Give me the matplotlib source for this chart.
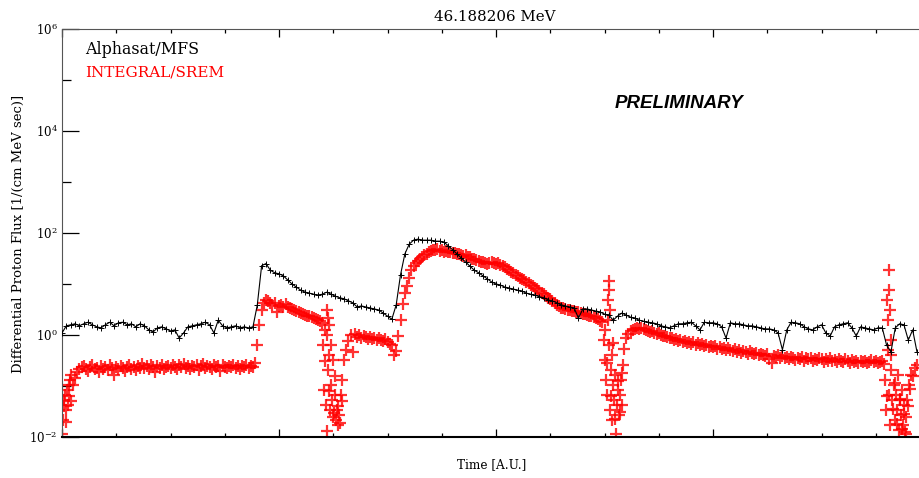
import numpy as np
import matplotlib
matplotlib.use("Agg")
import matplotlib.pyplot as plt
from matplotlib.ticker import FixedLocator, NullFormatter, FixedFormatter

# ---------------- data (log10 of differential proton flux) ----------------
title_text = "46.188206 MeV"
series_names = ["Alphasat/MFS", "INTEGRAL/SREM"]
ytick_values = [1e-2, 1e0, 1e2, 1e4, 1e6]
ytick_labels = [r"$10^{-2}$", r"$10^{0}$", r"$10^{2}$", r"$10^{4}$", r"$10^{6}$"]
yminor_values = [1e-1, 1e1, 1e3, 1e5]

mfs_dt = 0.02      # sample spacing, A.U.
srem_dt = 0.01

mfs_log10_flux = [
    0.04, 0.18, 0.20, 0.22, 0.18, 0.22, 0.25, 0.20, 0.16, 0.14,
    0.20, 0.25, 0.18, 0.24, 0.25, 0.20, 0.22, 0.16, 0.22, 0.18,
    0.10, 0.06, 0.14, 0.16, 0.12, 0.08, 0.10, -0.06, 0.04, 0.16,
    0.18, 0.20, 0.22, 0.25, 0.20, 0.04, 0.29, 0.18, 0.14, 0.16,
    0.18, 0.14, 0.16, 0.14, 0.16, 0.59, 1.36, 1.40, 1.27, 1.22,
    1.20, 1.16, 1.08, 1.00, 0.94, 0.88, 0.84, 0.82, 0.80, 0.78,
    0.80, 0.84, 0.80, 0.76, 0.73, 0.71, 0.67, 0.63, 0.55, 0.57,
    0.55, 0.53, 0.51, 0.49, 0.43, 0.37, 0.31, 0.59, 1.18, 1.59,
    1.78, 1.86, 1.88, 1.86, 1.86, 1.86, 1.84, 1.84, 1.82, 1.75,
    1.67, 1.59, 1.51, 1.43, 1.35, 1.27, 1.22, 1.16, 1.10, 1.04,
    1.00, 0.98, 0.94, 0.92, 0.90, 0.88, 0.86, 0.82, 0.80, 0.78,
    0.75, 0.73, 0.69, 0.67, 0.63, 0.59, 0.57, 0.55, 0.53, 0.33,
    0.51, 0.51, 0.49, 0.47, 0.45, 0.41, 0.39, 0.29, 0.37, 0.43,
    0.39, 0.35, 0.33, 0.29, 0.27, 0.25, 0.24, 0.22, 0.18, 0.16,
    0.14, 0.18, 0.22, 0.22, 0.24, 0.25, 0.18, 0.10, 0.25, 0.24,
    0.24, 0.22, 0.16, -0.06, 0.24, 0.22, 0.22, 0.20, 0.18, 0.18,
    0.16, 0.14, 0.12, 0.12, 0.10, 0.04, -0.29, 0.10, 0.25, 0.24,
    0.22, 0.16, 0.12, 0.10, 0.16, 0.20, 0.04, -0.02, 0.16, 0.20,
    0.22, 0.24, 0.14, -0.02, 0.16, 0.14, 0.12, 0.10, 0.14, 0.14,
    -0.20, -0.33, 0.14, 0.22, 0.20, -0.10, 0.10, -0.33,
]

srem_log10_flux = [
    -1.94, -1.40, -1.70, -1.20, -1.30, -0.98, -0.84, -0.73, -0.67, -0.63,
    -0.61, -0.66, -0.70, -0.63, -0.58, -0.67, -0.64, -0.72, -0.60, -0.66,
    -0.63, -0.69, -0.59, -0.65, -0.78, -0.62, -0.67, -0.60, -0.64, -0.70,
    -0.62, -0.58, -0.66, -0.63, -0.69, -0.60, -0.64, -0.57, -0.65, -0.61,
    -0.67, -0.59, -0.63, -0.72, -0.60, -0.64, -0.58, -0.66, -0.62, -0.60,
    -0.65, -0.58, -0.62, -0.67, -0.59, -0.63, -0.57, -0.64, -0.61, -0.66,
    -0.60, -0.63, -0.58, -0.69, -0.61, -0.57, -0.64, -0.60, -0.62, -0.66,
    -0.59, -0.63, -0.61, -0.70, -0.58, -0.62, -0.65, -0.60, -0.63, -0.59,
    -0.64, -0.61, -0.66, -0.60, -0.62, -0.58, -0.65, -0.61, -0.63, -0.55,
    -0.20, 0.20, 0.49, 0.63, 0.69, 0.67, 0.63, 0.59, 0.63, 0.45,
    0.57, 0.59, 0.55, 0.61, 0.55, 0.53, 0.51, 0.49, 0.47, 0.45,
    0.43, 0.41, 0.40, 0.38, 0.37, 0.35, 0.34, 0.31, 0.29, 0.27,
    0.24, -0.50, 0.49, -1.10, -0.20, -1.60, -0.80, -1.40, -1.72, -1.30,
    -0.49, -0.29, -0.12, 0.00, -0.33, 0.02, -0.04, 0.00, -0.06, -0.02,
    -0.04, -0.08, -0.03, -0.07, -0.05, -0.10, -0.06, -0.09, -0.12, -0.08,
    -0.14, -0.18, -0.20, -0.39, -0.31, -0.02, 0.29, 0.61, 0.82, 0.96,
    1.12, 1.27, 1.35, 1.41, 1.45, 1.49, 1.53, 1.57, 1.59, 1.63,
    1.65, 1.67, 1.66, 1.68, 1.65, 1.66, 1.63, 1.64, 1.62, 1.63,
    1.61, 1.60, 1.58, 1.59, 1.56, 1.55, 1.56, 1.53, 1.52, 1.50,
    1.49, 1.47, 1.46, 1.44, 1.43, 1.41, 1.40, 1.41, 1.43, 1.42,
    1.40, 1.41, 1.38, 1.36, 1.33, 1.30, 1.27, 1.24, 1.21, 1.18,
    1.15, 1.12, 1.10, 1.07, 1.04, 1.01, 0.98, 0.96, 0.93, 0.90,
    0.86, 0.83, 0.80, 0.77, 0.73, 0.70, 0.66, 0.62, 0.59, 0.56,
    0.53, 0.52, 0.51, 0.50, 0.50, 0.48, 0.47, 0.46, 0.45, 0.43,
    0.42, 0.41, 0.40, 0.38, 0.37, 0.35, 0.33, 0.31, 0.28, 0.25,
    0.10, -0.55, 1.06, -1.20, -0.15, -1.65, -0.90, -1.50, -0.75, -0.27,
    -0.06, 0.02, 0.07, 0.10, 0.12, 0.14, 0.12, 0.13, 0.11, 0.10,
    0.08, 0.06, 0.07, 0.04, 0.02, 0.03, 0.00, -0.02, -0.01, -0.04,
    -0.06, -0.05, -0.09, -0.07, -0.11, -0.10, -0.14, -0.12, -0.15, -0.13,
    -0.17, -0.14, -0.19, -0.16, -0.20, -0.18, -0.22, -0.19, -0.23, -0.21,
    -0.24, -0.22, -0.27, -0.23, -0.28, -0.25, -0.30, -0.26, -0.29, -0.31,
    -0.28, -0.33, -0.30, -0.35, -0.31, -0.34, -0.37, -0.32, -0.36, -0.38,
    -0.35, -0.39, -0.37, -0.40, -0.42, -0.38, -0.47, -0.55, -0.41, -0.44,
    -0.40, -0.45, -0.42, -0.46, -0.43, -0.48, -0.44, -0.46, -0.49, -0.45,
    -0.47, -0.44, -0.50, -0.46, -0.48, -0.45, -0.51, -0.47, -0.49, -0.46,
    -0.48, -0.52, -0.47, -0.50, -0.46, -0.51, -0.49, -0.53, -0.48, -0.50,
    -0.52, -0.48, -0.51, -0.55, -0.49, -0.53, -0.50, -0.54, -0.51, -0.52,
    -0.50, -0.54, -0.52, -0.49, -0.53, -0.51, -0.55, -0.52, -0.50, -0.56,
    -1.20, 1.27, -0.40, -1.45, -0.95, -1.75, -1.25, -1.85, -1.55, -1.95,
    -1.40, -1.05, -0.80, -0.65, -0.58,
]

# extra SREM samples inside the noisy drop-outs (time in A.U., log10 flux)
srem_burst_time = [
    0.005, 0.009, 0.014, 0.018, 0.023, 0.028, 0.032, 0.037, 0.041,
    1.203, 1.207, 1.212, 1.217, 1.221, 1.226, 1.230, 1.235, 1.240, 1.244,
    1.249, 1.253, 1.258, 1.263, 1.267, 1.272, 1.276, 1.286, 1.290,
    1.226, 1.230, 1.221,
    2.498, 2.502, 2.507, 2.512, 2.516, 2.516, 2.521, 2.521, 2.525, 2.525,
    2.530, 2.535, 2.535, 2.539, 2.544, 2.548, 2.553, 2.558, 2.562, 2.567,
    2.571, 2.576, 2.581, 2.585,
    3.793, 3.797, 3.802, 3.806, 3.806, 3.811, 3.811, 3.816, 3.816, 3.820,
    3.820, 3.825, 3.834, 3.839, 3.843, 3.848, 3.853, 3.857, 3.862, 3.866,
    3.871, 3.876, 3.880, 3.885, 3.889, 3.894, 3.903, 3.912,
]
srem_burst_log10_flux = [
    -1.67, -1.27, -1.18, -1.47, -1.08, -1.37, -0.98, -0.88, -0.78,
    -0.20, -1.08, 0.10, -1.37, -1.88, -0.69, -0.39, -1.47, -0.98, -1.27,
    -0.49, -1.53, -1.18, -1.67, -1.47, -1.76, -1.57, -1.18, -0.88,
    0.33, 0.20, 0.00,
    -0.10, -0.49, -0.88, -1.18, 0.69, 0.29, 0.88, -0.20, 0.49, -1.47,
    -0.69, -0.39, -1.67, -0.98, -1.27, -0.78, -1.94, -1.37, -1.08, -1.57,
    -1.18, -0.88, -1.37, -0.59,
    -0.88, -1.47, 0.69, 0.29, -0.29, 0.88, -1.18, 0.49, -1.76, -0.10,
    -0.69, -1.27, -0.98, -1.67, -1.18, -1.47, -0.78, -1.86, -1.27, -1.57,
    -1.08, -1.76, -1.37, -1.90, -1.61, -1.27, -0.98, -0.78,
]

# ---------------- figure ----------------
plt.rcParams["mathtext.fontset"] = "dejavuserif"
W, H = 919, 478
fig = plt.figure(figsize=(W / 100, H / 100), dpi=100)
ax = fig.add_axes([62 / W, 41 / H, 868 / W, 408 / H])

t_mfs = np.arange(len(mfs_log10_flux)) * mfs_dt
t_srem = np.arange(len(srem_log10_flux)) * srem_dt
f_mfs = 10.0 ** np.array(mfs_log10_flux)
f_srem = 10.0 ** np.array(srem_log10_flux)
f_burst = 10.0 ** np.array(srem_burst_log10_flux)

red_style = dict(linestyle="none", marker="+", color="#ff0000",
                 markersize=8, markeredgewidth=1.6, alpha=0.8, zorder=2)
ax.plot(t_srem, f_srem, **red_style)
ax.plot(srem_burst_time, f_burst, **red_style)
ax.plot(t_mfs, f_mfs, linestyle="-", linewidth=0.8, color="black",
        marker="+", markersize=5, markeredgewidth=0.7, zorder=3)

ax.set_yscale("log")
ax.set_ylim(1e-2, 1e6)
ax.set_xlim(0, 4)

ax.yaxis.set_major_locator(FixedLocator(ytick_values))
ax.yaxis.set_major_formatter(FixedFormatter(ytick_labels))
ax.yaxis.set_minor_locator(FixedLocator(yminor_values))
ax.yaxis.set_minor_formatter(NullFormatter())
ax.xaxis.set_major_locator(FixedLocator([0, 1, 2, 3, 4]))
ax.xaxis.set_minor_locator(FixedLocator(np.arange(0, 4.01, 0.25)))
ax.xaxis.set_major_formatter(NullFormatter())

ax.tick_params(axis="y", which="major", direction="in", length=12.5, width=0.9,
               labelsize=8.5, pad=3, left=True, right=False, colors="black")
ax.tick_params(axis="y", which="minor", direction="in", length=6.5, width=0.9,
               left=True, right=False)
ax.tick_params(axis="x", which="major", direction="in", length=6, width=0.9,
               top=True, bottom=True)
ax.tick_params(axis="x", which="minor", direction="in", length=3, width=0.9,
               top=True, bottom=True)

ax.spines["bottom"].set_linewidth(1.5)
ax.spines["bottom"].set_color("black")
for s in ("top", "left", "right"):
    ax.spines[s].set_linewidth(0.8)
    ax.spines[s].set_color("#555555")

serif = "DejaVu Serif"
fig.text(495 / W, 1 - 17 / H, title_text, ha="center", va="center",
         fontsize=10.8, family=serif)
fig.text(492 / W, 1 - 465 / H, "Time [A.U.]", ha="center", va="center",
         fontsize=8.7, family=serif)
fig.text(18 / W, 1 - 234 / H, "Differential Proton Flux [1/(cm MeV sec)]",
         ha="center", va="center", rotation=90, fontsize=9.5, family=serif)
fig.text(85 / W, 1 - 49 / H, series_names[0], ha="left", va="center",
         fontsize=11.4, family=serif, color="black")
fig.text(85 / W, 1 - 72 / H, series_names[1], ha="left", va="center",
         fontsize=11.0, family=serif, color="#ff0000")
fig.text(615 / W, 1 - 103 / H, "PRELIMINARY", ha="left", va="center",
         fontsize=13.5, family="Liberation Sans", fontweight="bold",
         fontstyle="italic")

fig.savefig("out.png", dpi=100)
